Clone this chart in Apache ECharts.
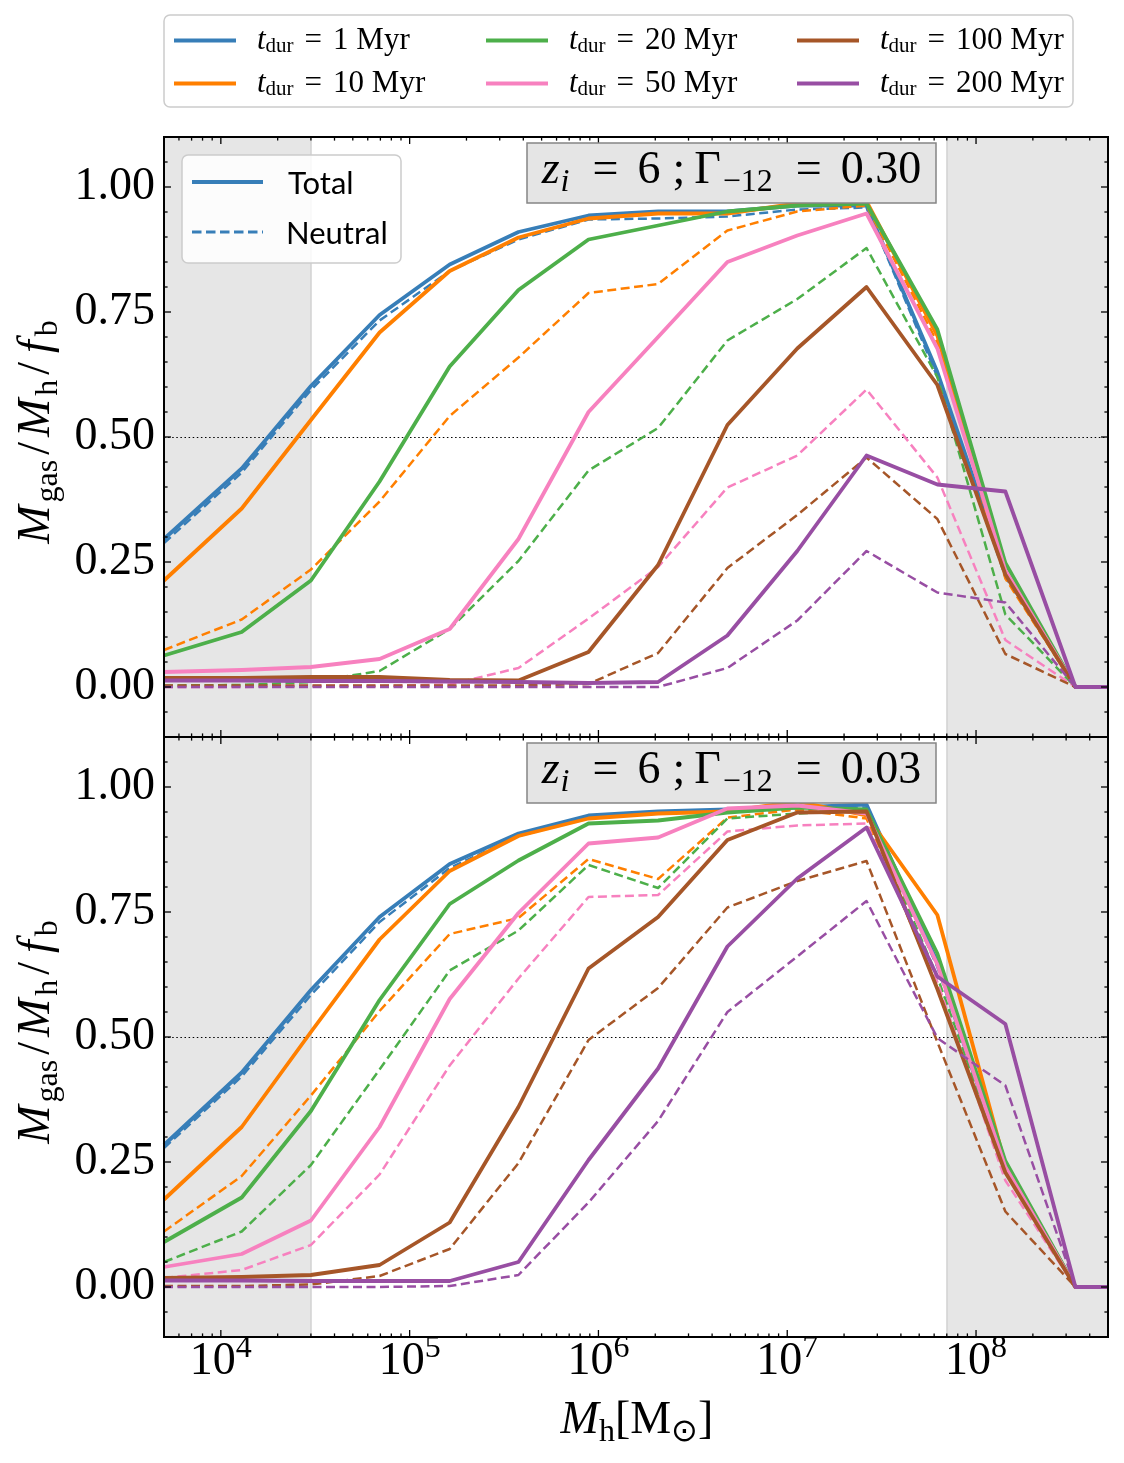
<!DOCTYPE html>
<html><head><meta charset="utf-8">
<script src="https://cdn.jsdelivr.net/npm/echarts@6/dist/echarts.min.js"></script>
<style>html,body{margin:0;padding:0;background:#fff}#c{width:1124px;height:1463px}</style>
</head><body><div id="c"></div>
<script>
// ---------------- data ----------------
const masses = [5.0e3, 1.29e4, 3.0e4, 6.93e4, 1.63e5, 3.77e5, 8.86e5, 2.07e6, 4.82e6, 1.13e7, 2.63e7, 6.24e7, 1.43e8, 3.36e8, 5.0e8];
const durations = ['1 Myr', '10 Myr', '20 Myr', '50 Myr', '100 Myr', '200 Myr'];
const colors = ['#377eb8', '#ff7f00', '#4daf4a', '#f781bf', '#a65628', '#984ea3'];
const panelLabels = ['0.30', '0.03'];

// top panel: Gamma_-12 = 0.30  (Total)
const g030Total1   = [0.296, 0.437, 0.602, 0.744, 0.845, 0.910, 0.943, 0.951, 0.951, 0.963, 0.963, 0.630, 0.229, 0, 0];
const g030Total10  = [0.213, 0.357, 0.534, 0.709, 0.832, 0.899, 0.937, 0.947, 0.947, 0.967, 0.971, 0.703, 0.225, 0, 0];
const g030Total20  = [0.063, 0.110, 0.213, 0.411, 0.641, 0.794, 0.895, 0.923, 0.951, 0.963, 0.967, 0.715, 0.248, 0, 0];
const g030Total50  = [0.030, 0.034, 0.040, 0.056, 0.116, 0.296, 0.550, 0.700, 0.850, 0.903, 0.947, 0.677, 0.233, 0, 0];
const g030Total100 = [0.018, 0.018, 0.020, 0.020, 0.014, 0.013, 0.070, 0.244, 0.524, 0.677, 0.800, 0.604, 0.225, 0, 0];
const g030Total200 = [0.013, 0.013, 0.012, 0.012, 0.011, 0.010, 0.008, 0.010, 0.103, 0.272, 0.463, 0.405, 0.391, 0, 0];
// top panel: Neutral
const g030Neutral1   = [0.288, 0.429, 0.594, 0.733, 0.832, 0.895, 0.935, 0.937, 0.941, 0.955, 0.959, 0.620, 0.220, 0, 0];
const g030Neutral10  = [0.074, 0.135, 0.235, 0.371, 0.542, 0.659, 0.788, 0.806, 0.913, 0.951, 0.963, 0.689, 0.217, 0, 0];
const g030Neutral20  = [0.003, 0.004, 0.010, 0.032, 0.116, 0.252, 0.433, 0.518, 0.693, 0.776, 0.878, 0.620, 0.145, 0, 0];
const g030Neutral50  = [0.000, 0.000, 0.002, 0.002, 0.005, 0.038, 0.137, 0.240, 0.399, 0.463, 0.595, 0.419, 0.094, 0, 0];
const g030Neutral100 = [0.003, 0.003, 0.003, 0.003, 0.003, 0.003, 0.006, 0.068, 0.238, 0.344, 0.459, 0.336, 0.066, 0, 0];
const g030Neutral200 = [0.000, 0.000, 0.000, 0.000, 0.000, 0.000, 0.000, 0.000, 0.038, 0.133, 0.272, 0.189, 0.169, 0, 0];

// bottom panel: Gamma_-12 = 0.03  (Total)
const g003Total1   = [0.284, 0.429, 0.594, 0.740, 0.846, 0.907, 0.943, 0.951, 0.955, 0.959, 0.965, 0.650, 0.244, 0, 0];
const g003Total10  = [0.175, 0.320, 0.510, 0.695, 0.832, 0.902, 0.937, 0.947, 0.951, 0.971, 0.943, 0.744, 0.244, 0, 0];
const g003Total20  = [0.090, 0.179, 0.352, 0.574, 0.766, 0.853, 0.927, 0.933, 0.949, 0.959, 0.955, 0.667, 0.252, 0, 0];
const g003Total50  = [0.040, 0.066, 0.133, 0.320, 0.576, 0.748, 0.887, 0.899, 0.957, 0.963, 0.947, 0.645, 0.240, 0, 0];
const g003Total100 = [0.018, 0.020, 0.024, 0.044, 0.129, 0.360, 0.637, 0.740, 0.894, 0.949, 0.951, 0.596, 0.229, 0, 0];
const g003Total200 = [0.013, 0.013, 0.012, 0.012, 0.012, 0.050, 0.254, 0.437, 0.681, 0.817, 0.919, 0.621, 0.526, 0, 0];
// bottom panel: Neutral
const g003Neutral1   = [0.278, 0.421, 0.584, 0.730, 0.838, 0.902, 0.939, 0.947, 0.951, 0.955, 0.959, 0.640, 0.235, 0, 0];
const g003Neutral10  = [0.111, 0.222, 0.383, 0.552, 0.706, 0.738, 0.856, 0.816, 0.939, 0.955, 0.937, 0.600, 0.233, 0, 0];
const g003Neutral20  = [0.050, 0.111, 0.244, 0.435, 0.633, 0.713, 0.844, 0.798, 0.937, 0.947, 0.955, 0.620, 0.236, 0, 0];
const g003Neutral50  = [0.018, 0.034, 0.084, 0.225, 0.443, 0.617, 0.780, 0.784, 0.911, 0.923, 0.927, 0.610, 0.213, 0, 0];
const g003Neutral100 = [0.002, 0.002, 0.005, 0.022, 0.076, 0.248, 0.494, 0.598, 0.759, 0.812, 0.852, 0.490, 0.151, 0, 0];
const g003Neutral200 = [0.000, 0.000, 0.000, 0.000, 0.002, 0.024, 0.169, 0.332, 0.550, 0.661, 0.772, 0.498, 0.403, 0, 0];

// axes / ticks
const xMin = 5e3, xMax = 5e8;
const yMin = -0.1, yMax = 1.1;
const xMajorTicks = [1e4, 1e5, 1e6, 1e7, 1e8];
const yMajorTicks = [0, 0.25, 0.5, 0.75, 1.0];
const yMinorTicks = [-0.05, 0.05, 0.10, 0.15, 0.20, 0.30, 0.35, 0.40, 0.45, 0.55, 0.60, 0.65, 0.70, 0.80, 0.85, 0.90, 0.95, 1.05];
const xMinorTicks = [];
for (let e = 3; e <= 8; e++) for (let k = 2; k <= 9; k++) { const v = k * Math.pow(10, e); if (v > xMin * 1.001 && v < xMax * 0.999) xMinorTicks.push(v); }
const shadeLow = [5e3, 3e4];
const shadeHigh = [7e7, 5e8];

const panels = [
  { total: [g030Total1, g030Total10, g030Total20, g030Total50, g030Total100, g030Total200],
    neutral: [g030Neutral1, g030Neutral10, g030Neutral20, g030Neutral50, g030Neutral100, g030Neutral200] },
  { total: [g003Total1, g003Total10, g003Total20, g003Total50, g003Total100, g003Total200],
    neutral: [g003Neutral1, g003Neutral10, g003Neutral20, g003Neutral50, g003Neutral100, g003Neutral200] }
];

// ---------------- chart ----------------
const SERIF = 'Liberation Serif';
const chart = echarts.init(document.getElementById('c'), null, { renderer: 'canvas' });

const grids = [
  { left: 164, top: 137, width: 944, height: 600, show: false },
  { left: 164, top: 737, width: 944, height: 600, show: false }
];

function xAxisFor(i) {
  return {
    type: 'log', logBase: 10, gridIndex: i, min: xMin, max: xMax,
    axisLine: { show: false }, axisTick: { show: false }, splitLine: { show: false }, minorTick: { show: false },
    axisLabel: {
      show: i === 1, showMinLabel: false, showMaxLabel: false, margin: -4,
      formatter: v => '{b|10}{sup|' + Math.round(Math.log10(v)) + '}',
      rich: {
        b: { fontFamily: SERIF, fontSize: 46, color: '#000', verticalAlign: 'bottom' },
        sup: { fontFamily: SERIF, fontSize: 32, color: '#000', verticalAlign: 'top', padding: [0, 0, 20, 0] }
      }
    }
  };
}
function yAxisFor(i) {
  return {
    type: 'value', gridIndex: i, min: yMin, max: yMax,
    axisLine: { show: false }, axisTick: { show: false }, splitLine: { show: false },
    axisLabel: {
      customValues: yMajorTicks, margin: 9,
      formatter: v => Number(v).toFixed(2),
      fontFamily: SERIF, fontSize: 46, color: '#000'
    }
  };
}

function tickRender(params, api) {
  const cs = params.coordSys;
  const x0 = cs.x, y0 = cs.y, x1 = cs.x + cs.width, y1 = cs.y + cs.height;
  const kids = [];
  function seg(a, b, c, d) {
    kids.push({ type: 'line', shape: { x1: a, y1: b, x2: c, y2: d }, style: { stroke: '#000', lineWidth: 1.3 } });
  }
  xMajorTicks.forEach(v => { const p = api.coord([v, 0.5])[0]; seg(p, y1, p, y1 - 7); seg(p, y0, p, y0 + 7); });
  xMinorTicks.forEach(v => { const p = api.coord([v, 0.5])[0]; seg(p, y1, p, y1 - 3.6); seg(p, y0, p, y0 + 3.6); });
  yMajorTicks.forEach(v => { const p = api.coord([1e6, v])[1]; seg(x0, p, x0 + 7, p); seg(x1, p, x1 - 7, p); });
  yMinorTicks.forEach(v => { const p = api.coord([1e6, v])[1]; seg(x0, p, x0 + 3.6, p); seg(x1, p, x1 - 3.6, p); });
  kids.push({ type: 'rect', shape: { x: x0, y: y0, width: cs.width, height: cs.height },
              style: { fill: 'none', stroke: '#000', lineWidth: 2 } });
  return { type: 'group', children: kids };
}

const series = [];
panels.forEach((pan, p) => {
  durations.forEach((name, d) => {
    const solid = {
      type: 'line', name: name, xAxisIndex: p, yAxisIndex: p,
      data: masses.map((m, k) => [m, pan.total[d][k]]),
      showSymbol: false, symbol: 'none', silent: true, animation: false,
      emphasis: { disabled: true },
      itemStyle: { color: colors[d] },
      lineStyle: { color: colors[d], width: 3.8, join: 'round' }, z: 2
    };
    if (d === 0) {
      solid.markArea = {
        z: 1, silent: true,
        itemStyle: { color: '#e6e6e6' },
        data: [[{ xAxis: shadeLow[0] }, { xAxis: shadeLow[1] }], [{ xAxis: shadeHigh[0] }, { xAxis: shadeHigh[1] }]]
      };
      solid.markLine = {
        z: 1, silent: true, symbol: 'none', label: { show: false }, animation: false,
        data: [
          { xAxis: shadeLow[1], lineStyle: { color: '#d2d2d2', width: 1.5, type: 'solid' } },
          { xAxis: shadeHigh[0], lineStyle: { color: '#d2d2d2', width: 1.5, type: 'solid' } },
          { yAxis: 0.5, lineStyle: { color: '#000', width: 1.2, type: [1.5, 2.6] } }
        ]
      };
    }
    series.push(solid);
    series.push({
      type: 'line', name: name, xAxisIndex: p, yAxisIndex: p,
      data: masses.map((m, k) => [m, pan.neutral[d][k]]),
      showSymbol: false, symbol: 'none', silent: true, animation: false,
      emphasis: { disabled: true },
      itemStyle: { color: colors[d] },
      lineStyle: { color: colors[d], width: 2.5, type: [9, 4.5], join: 'round' }, z: 2
    });
  });
  series.push({
    type: 'custom', xAxisIndex: p, yAxisIndex: p, data: [[1e6, 0.5]],
    renderItem: tickRender, silent: true, z: 20, clip: false, animation: false
  });
});

const legendRich = {
  t: { fontFamily: SERIF, fontStyle: 'italic', fontSize: 31, color: '#000', padding: [0, 0, 0, 16] },
  s: { fontFamily: SERIF, fontSize: 21, color: '#000', padding: [12, 0, 0, 0], verticalAlign: 'bottom' },
  q: { fontFamily: SERIF, fontSize: 31, color: '#000', padding: [0, 11, 0, 11] },
  r: { fontFamily: SERIF, fontSize: 31, color: '#000' }
};
const legendCols = [174, 486, 797];
const legends = legendCols.map((lx, c) => ({
  data: [durations[2 * c], durations[2 * c + 1]],
  orient: 'vertical', left: lx, top: 25, padding: 0,
  itemWidth: 62, itemHeight: 4, itemGap: 11, icon: 'rect',
  itemStyle: { borderWidth: 0 }, selectedMode: false,
  formatter: n => '{t|t}{s|dur}{q|=}{r|' + n + '}',
  textStyle: { rich: legendRich }
}));

function annot(yTop, g) {
  return [
    { type: 'rect', z: 100, silent: true, shape: { x: 527, y: yTop, width: 409, height: 60 },
      style: { fill: '#e5e5e5', stroke: '#858585', lineWidth: 1.5 } },
    { type: 'text', z: 101, silent: true, x: 731.5, y: yTop + 28,
      style: {
        text: '{m|z}{ms|i}{q|=}{r|6}{sc|;}{r|Γ}{rs|−12}{q|=}{r|' + g + '}',
        align: 'center', verticalAlign: 'middle',
        rich: {
          m: { fontFamily: SERIF, fontStyle: 'italic', fontSize: 46, fill: '#000' },
          ms: { fontFamily: SERIF, fontStyle: 'italic', fontSize: 32, fill: '#000', padding: [23, 4, 0, 1], verticalAlign: 'bottom' },
          q: { fontFamily: SERIF, fontSize: 46, fill: '#000', padding: [0, 19, 0, 19] },
          sc: { fontFamily: SERIF, fontSize: 46, fill: '#000', padding: [0, 9, 0, 12] },
          r: { fontFamily: SERIF, fontSize: 46, fill: '#000' },
          rs: { fontFamily: SERIF, fontSize: 32, fill: '#000', padding: [23, 4, 0, 2], verticalAlign: 'bottom' }
        }
      } }
  ];
}

function yTitle(cy) {
  return { type: 'text', z: 101, silent: true, x: 37, y: cy, rotation: Math.PI / 2,
    style: {
      text: '{m|M}{s|gas}{sl|/}{m|M}{s|h}{sl|/}{f|f}{s|b}',
      align: 'center', verticalAlign: 'middle',
      rich: {
        m: { fontFamily: SERIF, fontStyle: 'italic', fontSize: 46, fill: '#000', padding: [0, 3, 0, 0] },
        f: { fontFamily: SERIF, fontStyle: 'italic', fontSize: 46, fill: '#000', padding: [0, 4, 0, 4] },
        s: { fontFamily: SERIF, fontSize: 32, fill: '#000', padding: [23, 0, 0, 0], verticalAlign: 'bottom' },
        sl: { fontFamily: SERIF, fontSize: 46, fill: '#000', padding: [0, 5, 0, 5] }
      }
    } };
}

const graphics = [
  // legend frame
  { type: 'rect', z: 0, silent: true, shape: { x: 164, y: 15, width: 909, height: 92, r: 6 },
    style: { fill: '#fff', stroke: '#cccccc', lineWidth: 1.5 } },
  // Total / Neutral legend
  { type: 'rect', z: 100, silent: true, shape: { x: 182, y: 155, width: 219, height: 108, r: 6 },
    style: { fill: 'rgba(255,255,255,0.85)', stroke: '#cccccc', lineWidth: 1.5 } },
  { type: 'line', z: 101, silent: true, shape: { x1: 192, y1: 182, x2: 263, y2: 182 },
    style: { stroke: colors[0], lineWidth: 3.8 } },
  { type: 'line', z: 101, silent: true, shape: { x1: 192, y1: 232, x2: 263, y2: 232 },
    style: { stroke: colors[0], lineWidth: 3.2, lineDash: [9.5, 4.5] } },
  { type: 'text', z: 101, silent: true, x: 288, y: 184,
    style: { text: 'Total', fontFamily: 'Lato', fontSize: 31, fill: '#000', align: 'left', verticalAlign: 'middle' } },
  { type: 'text', z: 101, silent: true, x: 286, y: 234,
    style: { text: 'Neutral', fontFamily: 'Lato', fontSize: 31, fill: '#000', align: 'left', verticalAlign: 'middle' } },
  ...annot(143, panelLabels[0]),
  ...annot(743, panelLabels[1]),
  yTitle(432), yTitle(1032),
  { type: 'text', z: 101, silent: true, x: 637, y: 1421,
    style: {
      text: '{m|M}{s|h}{r|[M}{s|⊙}{r|]}', align: 'center', verticalAlign: 'middle',
      rich: {
        m: { fontFamily: SERIF, fontStyle: 'italic', fontSize: 46, fill: '#000' },
        s: { fontFamily: SERIF, fontSize: 32, fill: '#000', padding: [23, 0, 0, 0], verticalAlign: 'bottom' },
        r: { fontFamily: SERIF, fontSize: 46, fill: '#000' }
      }
    } }
];

chart.setOption({
  animation: false,
  backgroundColor: '#fff',
  grid: grids,
  xAxis: [xAxisFor(0), xAxisFor(1)],
  yAxis: [yAxisFor(0), yAxisFor(1)],
  legend: legends,
  series: series,
  graphic: graphics
});
</script></body></html>
